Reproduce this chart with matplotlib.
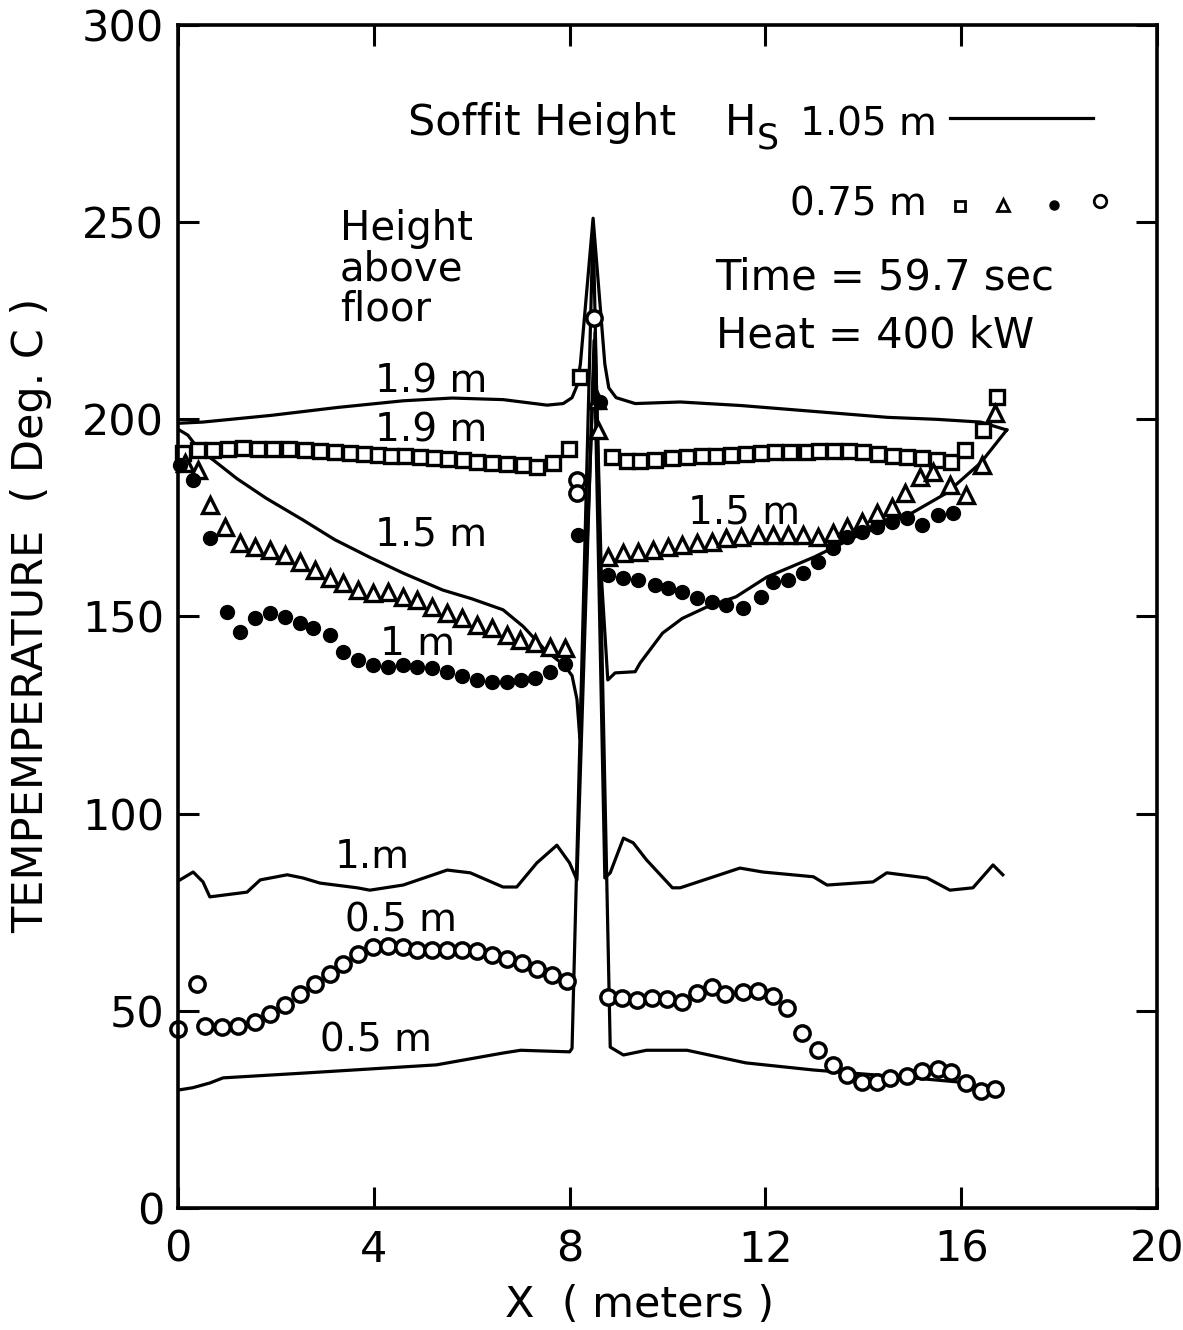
import matplotlib
matplotlib.use('Agg')
import matplotlib.pyplot as plt

# ---------------------------------------------------------------
# dados lidos da figura
# linhas continuas: soffit 1.05 m
x_19 = [0.0, 0.5, 1.9, 3.25, 4.6, 5.6, 6.64, 7.54, 7.87, 8.05, 8.15, 8.22, 8.48, 8.72, 8.8, 8.95,
        9.34, 10.26, 11.5, 12.5, 13.5, 14.5, 15.5, 16.4, 16.93]
y_19 = [199.0, 199.3, 201.0, 203.0, 204.7, 205.4, 205.0, 203.6, 204.0, 205.5, 208.5, 214.0, 251.0,
        214.0, 208.0, 205.5, 204.0, 204.4, 203.5, 202.5, 201.5, 200.5, 200.0, 199.3, 197.3]

x_15 = [0.0, 0.2, 0.45, 0.72, 1.2, 1.8, 2.55, 3.2, 3.92, 4.6, 5.41, 6.0, 6.64, 7.05, 7.5, 7.9,
        8.05, 8.15, 8.21, 8.52, 8.65, 8.78, 8.93, 9.34, 9.44, 9.9, 10.3, 10.8, 11.4, 12.03, 13.0,
        14.0, 15.0, 15.7, 16.4, 16.93]
y_15 = [197.5, 196.0, 192.0, 189.7, 185.0, 180.0, 174.5, 169.5, 165.0, 161.0, 156.7, 154.5, 151.7,
        147.5, 141.5, 137.5, 135.0, 129.0, 119.0, 222.0, 160.0, 133.9, 135.7, 136.0, 138.2, 145.8,
        149.5, 152.4, 155.0, 160.0, 165.1, 171.2, 176.3, 181.3, 189.0, 197.3]

x_10 = [0.04, 0.31, 0.51, 0.65, 1.41, 1.68, 2.23, 2.55, 2.9, 3.66, 3.92, 4.6, 5.5, 5.97, 6.64,
        6.92, 7.33, 7.74, 8.0, 8.15, 8.5, 8.72, 8.83, 9.1, 9.3, 9.57, 10.1, 10.26, 11.48, 11.95,
        12.98, 13.26, 14.2, 14.48, 15.3, 15.77, 16.24, 16.65, 16.85]
y_10 = [83.2, 85.2, 82.7, 78.9, 80.1, 83.2, 84.5, 83.7, 82.4, 81.2, 80.6, 81.9, 85.7, 85.0, 81.4,
        81.4, 87.5, 92.0, 87.5, 83.2, 220.0, 83.7, 85.0, 93.8, 92.6, 88.3, 81.2, 81.2, 86.2, 85.2,
        84.0, 81.9, 82.7, 85.0, 83.7, 80.6, 81.2, 87.0, 84.5]

x_05 = [0.0, 0.3, 0.65, 0.92, 2.55, 5.28, 6.64, 7.0, 8.0, 8.05, 8.48, 8.83, 9.1, 9.57, 10.4,
        11.6, 12.98, 15.0, 15.9]
y_05 = [29.9, 30.5, 31.7, 33.0, 34.2, 36.3, 39.3, 40.0, 39.6, 40.5, 250.0, 40.8, 38.8, 40.0, 40.0,
        36.8, 35.0, 33.0, 32.0]

# simbolos: soffit 0.75 m
sq_x = [0.1, 0.41, 0.72, 1.03, 1.33, 1.64, 1.95, 2.26, 2.59, 2.9, 3.2, 3.51, 3.79, 4.09, 4.36,
        4.64, 4.94, 5.22, 5.52, 5.83, 6.1, 6.41, 6.72, 7.05, 7.33, 7.67, 7.98, 8.21, 8.87, 9.17,
        9.44, 9.74, 10.09, 10.4, 10.7, 11.0, 11.3, 11.6, 11.9, 12.2, 12.5, 12.85, 13.1, 13.4,
        13.7, 14.0, 14.3, 14.6, 14.9, 15.2, 15.5, 15.8, 16.08, 16.45, 16.73]
sq_y = [191.5, 192.2, 192.2, 192.5, 192.7, 192.5, 192.5, 192.5, 192.1, 191.9, 191.7, 191.4,
        191.2, 191.0, 190.8, 190.6, 190.4, 190.2, 190.0, 189.7, 189.3, 189.0, 188.7, 188.4,
        187.9, 188.9, 192.5, 210.8, 190.4, 189.5, 189.5, 189.7, 190.1, 190.4, 190.7, 190.7,
        191.0, 191.2, 191.4, 191.6, 191.8, 191.8, 192.0, 192.0, 192.0, 191.8, 191.2, 190.7,
        190.4, 190.1, 189.7, 189.2, 192.2, 197.3, 205.7]

tri_x = [0.15, 0.41, 0.65, 0.96, 1.27, 1.57, 1.88, 2.19, 2.49, 2.8, 3.1, 3.37, 3.68, 3.98, 4.29,
         4.6, 4.88, 5.19, 5.5, 5.8, 6.1, 6.41, 6.72, 6.99, 7.29, 7.6, 7.9, 8.55, 8.58, 8.79, 9.1,
         9.4, 9.7, 10.0, 10.3, 10.6, 10.9, 11.2, 11.5, 11.85, 12.15, 12.46, 12.77, 13.07, 13.38,
         13.67, 13.97, 14.28, 14.58, 14.85, 15.16, 15.42, 15.77, 16.1, 16.42, 16.7]
tri_y = [189.0, 187.2, 178.3, 172.7, 168.6, 167.6, 166.9, 165.6, 163.8, 161.8, 159.8, 158.5,
         156.7, 156.0, 156.2, 155.0, 154.2, 152.4, 150.9, 149.6, 147.9, 147.1, 145.3, 144.1,
         143.3, 142.3, 142.0, 205.0, 197.3, 165.1, 166.1, 166.4, 166.9, 167.6, 168.1, 168.6,
         168.9, 169.9, 170.2, 170.7, 170.7, 170.7, 170.7, 170.2, 171.2, 172.7, 174.0, 176.3,
         177.8, 181.3, 185.4, 186.7, 183.4, 180.8, 188.4, 201.6]

dot_x = [0.04, 0.31, 0.65, 1.0, 1.27, 1.57, 1.88, 2.19, 2.49, 2.76, 3.1, 3.37, 3.68, 3.98, 4.29,
         4.6, 4.88, 5.19, 5.5, 5.8, 6.1, 6.41, 6.72, 7.0, 7.3, 7.6, 7.9, 8.17, 8.62, 8.79, 9.1,
         9.4, 9.74, 10.0, 10.3, 10.6, 10.9, 11.2, 11.55, 11.9, 12.15, 12.46, 12.77, 13.07, 13.38,
         13.67, 13.97, 14.28, 14.58, 14.9, 15.2, 15.53, 15.83]
dot_y = [188.4, 184.6, 169.9, 151.2, 146.1, 149.6, 150.9, 149.9, 148.4, 147.1, 145.3, 141.0,
         139.0, 137.7, 137.2, 137.7, 137.2, 137.0, 136.0, 135.0, 134.0, 133.5, 133.5, 134.0,
         134.5, 136.0, 138.0, 170.7, 204.4, 160.5, 159.8, 159.3, 158.0, 157.2, 156.2, 154.7,
         153.7, 152.9, 152.2, 155.0, 158.8, 159.3, 161.0, 163.8, 167.4, 170.2, 171.4, 172.7,
         174.0, 175.0, 173.2, 175.8, 176.3]

cir_x = [0.0, 0.39, 0.55, 0.9, 1.23, 1.57, 1.88, 2.19, 2.49, 2.8, 3.1, 3.37, 3.68, 3.98, 4.29,
         4.6, 4.88, 5.19, 5.5, 5.8, 6.1, 6.41, 6.72, 7.03, 7.33, 7.64, 7.95, 8.15, 8.15, 8.5, 8.79,
         9.07, 9.37, 9.68, 9.99, 10.3, 10.6, 10.9, 11.17, 11.55, 11.85, 12.15, 12.44, 12.75,
         13.07, 13.38, 13.67, 13.97, 14.28, 14.55, 14.9, 15.2, 15.53, 15.8, 16.1, 16.4, 16.7]
cir_y = [45.4, 56.8, 46.2, 45.9, 46.2, 47.2, 49.2, 51.5, 54.3, 56.8, 59.3, 61.9, 64.4, 66.2, 66.4,
         66.2, 65.4, 65.4, 65.4, 65.4, 65.2, 64.2, 63.1, 62.1, 60.6, 59.1, 57.6, 184.6, 181.3,
         225.7, 53.5, 53.3, 52.8, 53.3, 53.0, 52.2, 54.5, 56.0, 54.3, 54.8, 55.0, 53.8, 50.7,
         44.4, 40.1, 36.3, 33.7, 32.0, 32.0, 33.0, 33.5, 34.7, 35.3, 34.5, 31.7, 29.7, 30.2]

x_ticks = [0, 4, 8, 12, 16, 20]
y_ticks = [0, 50, 100, 150, 200, 250, 300]

# ---------------------------------------------------------------
plt.rcParams['font.family'] = 'DejaVu Sans'
fs = 28

fig = plt.figure(figsize=(11.83, 13.30), dpi=100)
ax = fig.add_axes([178 / 1183, 1 - 1208 / 1330, (1157 - 178) / 1183, (1208 - 25) / 1330])

lw = 2.3
for xs, ys in [(x_19, y_19), (x_15, y_15), (x_10, y_10), (x_05, y_05)]:
    ax.plot(xs, ys, color='black', linewidth=lw, solid_joinstyle='round')

# simbolos
ax.plot(sq_x, sq_y, 's', ms=10, mfc='white', mec='black', mew=2.4, clip_on=False)
ax.plot(tri_x, tri_y, '^', ms=12, mfc='white', mec='black', mew=2.4, clip_on=False)
ax.plot(dot_x, dot_y, 'o', ms=10, mfc='black', mec='black', clip_on=False)
ax.plot(cir_x, cir_y, 'o', ms=11, mfc='white', mec='black', mew=2.5, clip_on=False)

# eixos
ax.set_xlim(0, 20)
ax.set_ylim(0, 300)
ax.set_xticks(x_ticks)
ax.set_yticks(y_ticks)
ax.tick_params(direction='in', length=15, width=2.2, top=True, right=True,
               labelsize=31)
ax.tick_params(axis='x', pad=15)
ax.tick_params(axis='y', pad=10)
for s in ax.spines.values():
    s.set_linewidth(2.6)

fig.text(640 / 1183, 1 - 1305 / 1330, 'X  ( meters )', ha='center', va='center', fontsize=31)
fig.text(31 / 1183, 1 - 615 / 1330, 'TEMPEMPERATURE  ( Deg. C )', ha='center', va='center',
         rotation=90, fontsize=31)

# legenda desenhada a mao
ax.text(4.70, 272.1, 'Soffit Height', fontsize=31, va='baseline')
ax.text(11.17, 272.1, 'H', fontsize=30, va='baseline')
ax.text(11.83, 268.8, 'S', fontsize=25, va='baseline')
ax.text(12.71, 272.1, '1.05 m', fontsize=fs, va='baseline')
ax.plot([15.77, 18.69], [276.4, 276.4], color='black', linewidth=lw)
ax.text(12.5, 251.8, '0.75 m', fontsize=fs, va='baseline')
ax.plot([15.98], [254.1], 's', ms=7, mfc='white', mec='black', mew=2.0)
ax.plot([16.85], [254.3], '^', ms=8.5, mfc='white', mec='black', mew=2.0)
ax.plot([17.9], [254.3], 'o', ms=6.5, mfc='black', mec='black')
ax.plot([18.83], [255.4], 'o', ms=9, mfc='white', mec='black', mew=2.0)

ax.text(3.31, 253.4, 'Height\nabove\nfloor', fontsize=29, va='top', ha='left', linespacing=1.02)
ax.text(10.97, 232.8, 'Time = 59.7 sec', fontsize=30, va='baseline')
ax.text(11.0, 218.1, 'Heat = 400 kW', fontsize=30, va='baseline')

# rotulos das curvas
ax.text(4.02, 206.7, '1.9 m', fontsize=fs, va='baseline')
ax.text(4.02, 194.5, '1.9 m', fontsize=fs, va='baseline')
ax.text(4.02, 168.1, '1.5 m', fontsize=fs, va='baseline')
ax.text(4.13, 140.2, '1 m', fontsize=fs, va='baseline')
ax.text(10.42, 173.7, '1.5 m', fontsize=fs, va='baseline')
ax.text(3.21, 86.2, '1.m', fontsize=fs, va='baseline')
ax.text(3.41, 70.0, '0.5 m', fontsize=fs, va='baseline')
ax.text(2.9, 39.6, '0.5 m', fontsize=fs, va='baseline')

plt.savefig('out.png', dpi=100)
